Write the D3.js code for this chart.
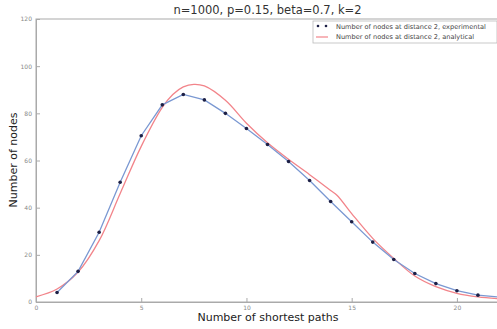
<!DOCTYPE html>
<html><head><meta charset="utf-8">
<script src="https://cdn.jsdelivr.net/npm/d3@7"></script>
<style>body{margin:0;background:#fff;}svg{display:block;}</style>
</head><body>
<svg id="c" width="497" height="329"></svg>
<script>
const expX = [1,2,3,4,5,6,7,8,9,10,11,12,13,14,15,16,17,18,19,20,21,22];
const expY = [4,13,29.6,50.8,70.5,83.6,88,85.7,80,73.6,66.8,59.6,51.5,42.6,34,25.4,18,12.1,7.8,4.8,2.9,2.1];
const anaX = [0,1,2,3,4,5,6,6.5,7,7.5,8,9,10,11,12,13,14,14.3,15,16,17,18,19,20,21,22];
const anaY = [2.2,5.5,12.7,26,46,66,82.5,88,91.2,92.3,91.6,85.5,75.8,67.5,60.5,54,47.3,45.3,37.5,27,18.5,11,6.5,3.7,2.2,1.4];
const xTicks = [0,5,10,15,20];
const yTicks = [0,20,40,60,80,100,120];
const title = "n=1000, p=0.15, beta=0.7, k=2";
const legendLabels = ["Number of nodes at distance 2, experimental","Number of nodes at distance 2, analytical"];

const svg = d3.select("#c");
const L=36, R=499, T=19, B=302;
const x = d3.scaleLinear().domain([0,22]).range([L,R]);
const y = d3.scaleLinear().domain([0,120]).range([B,T]);
const axisCol = "#aaaaaa";

svg.append("rect").attr("x",L).attr("y",T).attr("width",R-L).attr("height",B-T)
  .attr("fill","none").attr("stroke",axisCol).attr("stroke-width",1);

const xa = svg.append("g").attr("transform",`translate(0,${B})`)
  .call(d3.axisBottom(x).tickValues(xTicks).tickSize(-4).tickPadding(4).tickFormat(d3.format("d")));
const ya = svg.append("g").attr("transform",`translate(${L},0)`)
  .call(d3.axisLeft(y).tickValues(yTicks).tickSize(-4).tickPadding(4).tickFormat(d3.format("d")));
[xa,ya].forEach(a=>{
  a.select(".domain").attr("stroke",axisCol);
  a.selectAll(".tick line").attr("stroke",axisCol);
  a.selectAll(".tick text").attr("fill","#888").attr("font-size","6px").attr("font-family","DejaVu Sans");
});

const anaData = anaX.map((v,i)=>[v,anaY[i]]);
const expData = expX.map((v,i)=>[v,expY[i]]);

svg.append("path").datum(anaData)
  .attr("d",d3.line().x(d=>x(d[0])).y(d=>y(d[1])).curve(d3.curveCatmullRom.alpha(0.5)))
  .attr("fill","none").attr("stroke","#f2848a").attr("stroke-width",1.3);
svg.append("path").datum(expData)
  .attr("d",d3.line().x(d=>x(d[0])).y(d=>y(d[1])))
  .attr("fill","none").attr("stroke","#7a98d2").attr("stroke-width",1.3);
svg.selectAll("circle.pt").data(expData.filter(d=>d[0]<=21)).join("circle").attr("class","pt")
  .attr("cx",d=>x(d[0])).attr("cy",d=>y(d[1])).attr("r",1.8).attr("fill","#1c1f45");

svg.append("text").attr("x",(L+R)/2).attr("y",14).attr("text-anchor","middle")
  .attr("font-family","DejaVu Sans").attr("font-size","11.5px").attr("fill","#333").text(title);
svg.append("text").attr("x",268).attr("y",321).attr("text-anchor","middle")
  .attr("font-family","DejaVu Sans").attr("font-size","11px").attr("fill","#222").text("Number of shortest paths");
svg.append("text").attr("transform","translate(17,160) rotate(-90)").attr("text-anchor","middle")
  .attr("font-family","DejaVu Sans").attr("font-size","11px").attr("fill","#222").text("Number of nodes");

const lg = svg.append("g");
lg.append("rect").attr("x",313).attr("y",21).attr("width",184).attr("height",22)
  .attr("fill","#fff").attr("stroke","#bbb").attr("stroke-width",0.8);
lg.append("circle").attr("cx",318).attr("cy",26).attr("r",1.3).attr("fill","#1c1f45");
lg.append("circle").attr("cx",326).attr("cy",26).attr("r",1.3).attr("fill","#1c1f45");
lg.append("line").attr("x1",316).attr("x2",328).attr("y1",37).attr("y2",37).attr("stroke","#f2848a").attr("stroke-width",1.2);
legendLabels.forEach((t,i)=>{
  lg.append("text").attr("x",336).attr("y",28.5+i*10.5).attr("font-family","DejaVu Sans")
    .attr("font-size","6.6px").attr("fill","#444").text(t);
});
</script>
</body></html>
